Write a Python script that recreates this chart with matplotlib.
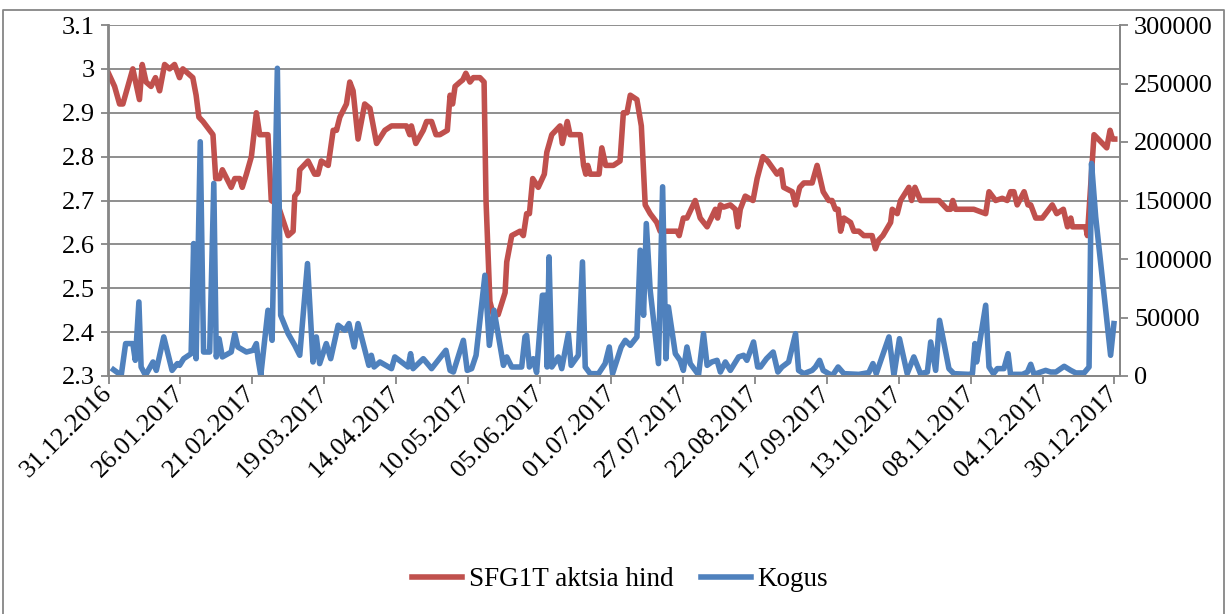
import pandas as pd
import matplotlib
matplotlib.use('Agg')
from matplotlib import pyplot as plt
from matplotlib.ticker import MultipleLocator, FuncFormatter
from matplotlib.lines import Line2D
import matplotlib.dates as mdates

plt.rcParams['font.family'] = ['Liberation Serif', 'DejaVu Serif']

# Päevad alates 31.12.2016 ja aktsia hind
hind_paevad = [0, 2.2, 4, 5.2, 8.8, 11.2, 12.2, 13.6, 15.4, 17,
               18.5, 20.3, 22.1, 23.9, 25.7, 26.9, 28.7, 30.5, 31.7, 32.7,
               34.2, 36.6, 37.8, 38.8, 40.2, 41.2, 44.4, 45.7, 47.5, 48.4,
               49.9, 51.7, 53.5, 54.7, 57.7, 58.9, 61.3, 65, 66.8, 67.4,
               68.6, 69.2, 72.2, 74.6, 75.8, 77, 79.5, 81.3, 82.5, 83.7,
               86.1, 87.3, 88.5, 90.3, 92.7, 94.6, 97, 100, 102.4, 107.8,
               109, 109.6, 111.2, 113.9, 115.1, 116.9, 118.5, 119.9, 122.6, 123.6,
               124.5, 125.4, 127.2, 128.2, 129.3, 130.8, 132, 134.4, 135.9, 136.6,
               138, 139.2, 141, 143.5, 144.1, 145.9, 148.9, 150.1, 151.3, 152.3,
               153.5, 155.5, 157.7, 158.6, 160.4, 163.4, 164.2, 166, 167, 170.7,
               171.9, 172.7, 173.4, 174.3, 177.5, 178.5, 179.9, 182.7, 185.1, 186.3,
               187.6, 188.8, 191.2, 192.8, 194.2, 196, 198.4, 199.6, 205.7, 206.5,
               208, 209.3, 212.3, 214.1, 216.6, 219.6, 220.4, 221.4, 222.6, 225,
               226.8, 227.7, 228.6, 230.4, 233.2, 234.7, 236.8, 238.5, 241.9, 243.4,
               244.3, 247.4, 248.6, 250.1, 251.6, 254.6, 256.4, 258.6, 260.6, 261.8,
               263, 264, 264.9, 266.1, 268.5, 269.7, 271.5, 273.3, 276.3, 277.5,
               278.7, 280.2, 283, 283.6, 285.4, 286.6, 289.6, 290.6, 291.8, 293.8,
               300.5, 303.5, 304.7, 305.5, 306.5, 313.1, 317.4, 318.6, 321, 323.4,
               325.2, 326.4, 327.6, 328.8, 331.3, 332.7, 333.7, 335.5, 337.9, 341.5,
               343.1, 345.5, 347, 348.2, 348.8, 353.6, 354.2, 356.6, 361.2,
               362.4, 363.3, 364.1]
hind = [2.99, 2.96, 2.92, 2.92, 3.00, 2.93, 3.01, 2.97, 2.96, 2.98,
        2.95, 3.01, 3.00, 3.01, 2.98, 3.00, 2.99, 2.98, 2.94, 2.89,
        2.88, 2.86, 2.85, 2.75, 2.75, 2.77, 2.73, 2.75, 2.75, 2.73,
        2.76, 2.80, 2.90, 2.85, 2.85, 2.70, 2.69, 2.62, 2.63, 2.71,
        2.72, 2.77, 2.79, 2.76, 2.76, 2.79, 2.78, 2.86, 2.86, 2.89,
        2.92, 2.97, 2.95, 2.84, 2.92, 2.91, 2.83, 2.86, 2.87, 2.87,
        2.85, 2.87, 2.83, 2.86, 2.88, 2.88, 2.85, 2.85, 2.86, 2.94,
        2.92, 2.96, 2.97, 2.975, 2.99, 2.97, 2.98, 2.98, 2.97, 2.70,
        2.47, 2.44, 2.44, 2.49, 2.56, 2.62, 2.63, 2.62, 2.67, 2.67,
        2.75, 2.73, 2.76, 2.81, 2.85, 2.87, 2.83, 2.88, 2.85, 2.85,
        2.78, 2.76, 2.78, 2.76, 2.76, 2.82, 2.78, 2.78, 2.79, 2.90,
        2.90, 2.94, 2.93, 2.87, 2.69, 2.67, 2.65, 2.63, 2.63, 2.62,
        2.66, 2.66, 2.70, 2.66, 2.64, 2.68, 2.66, 2.69, 2.685, 2.69,
        2.68, 2.64, 2.68, 2.71, 2.70, 2.75, 2.80, 2.79, 2.76, 2.77,
        2.73, 2.72, 2.69, 2.73, 2.74, 2.74, 2.78, 2.72, 2.70, 2.70,
        2.68, 2.68, 2.63, 2.66, 2.65, 2.63, 2.63, 2.62, 2.62, 2.59,
        2.61, 2.62, 2.65, 2.68, 2.67, 2.70, 2.73, 2.70, 2.73, 2.70,
        2.70, 2.68, 2.68, 2.70, 2.68, 2.68, 2.67, 2.72, 2.70, 2.705,
        2.70, 2.72, 2.72, 2.69, 2.72, 2.69, 2.69, 2.66, 2.66, 2.69,
        2.67, 2.68, 2.64, 2.66, 2.64, 2.64, 2.62, 2.85, 2.82,
        2.86, 2.84, 2.84]

# Päevad alates 31.12.2016 ja tehingute kogus
kogus_paevad = [1.8, 4.6, 6.2, 8.8, 9.7, 11, 11.8, 13.4, 16.1, 17.3,
                20, 23, 24.9, 25.7, 27.2, 29.9, 30.8, 31.7, 33.2, 34.4,
                36.6, 38.1, 39, 40, 41.2, 44.4, 45.7, 46.8, 49.9, 52.3,
                53.5, 54.1, 55.1, 57.7, 59.2, 61.1, 62.3, 65, 67.4, 69.2,
                72, 74, 75.2, 76.4, 78.8, 80.4, 83.1, 85.5, 87, 88.9,
                90.3, 94.2, 95.1, 96.1, 98.2, 102.4, 103.6, 108.4, 109.3, 110.2,
                113.9, 116.9, 122.1, 123.6, 124.8, 128.4, 129.8, 131.4, 133, 136.2,
                137.8, 139.5, 142.9, 144.1, 145.9, 149.5, 150.7, 151.3, 152.3, 153.7,
                154.9, 157, 158, 158.7, 159.4, 160.4, 162.8, 164, 166.4, 167.4,
                170, 171.5, 172.5, 174.3, 177.3, 179.7, 181.2, 182.4, 185.5, 187,
                188.8, 191.2, 192.4, 193.6, 194.6, 196, 199, 200.5, 201.7, 202.6,
                205.1, 206.8, 208, 209.3, 210.5, 213.5, 215.3, 216.6, 218.3, 220.2,
                221.4, 223.2, 225, 228, 229.8, 231, 233.4, 234.9, 235.9, 238.1,
                240.5, 242.2, 243.7, 246.1, 248.6, 249.7, 251.6, 254.6, 255.8, 257.3,
                258.6, 260.6, 262, 264, 266.1, 271.5, 275.1, 276.6, 277.8, 282.4,
                284.2, 286.2, 289, 291.4, 293.8, 296.3, 297.5, 299.3, 300.7, 304.1,
                305.9, 311.3, 312.6, 313.5, 314.1, 317.4, 318.6, 320.2, 321.6, 324,
                325.5, 326.4, 330.7, 332.5, 333.7, 334.9, 339.1, 340.9, 342.8, 345.8,
                348.2, 350, 353, 354.8, 355.7, 357.2, 362.6, 363.8]
kogus = [5400, 600, 27700, 27700, 13400, 63300, 7700, 600, 12000, 4800,
         33400, 4800, 10600, 9100, 14800, 19100, 113200, 14800, 200200, 20500,
         20500, 164600, 16300, 31900, 16300, 20500, 36200, 24800, 20500, 22000,
         27700, 14800, 600, 56200, 30500, 263000, 51900, 36200, 26200, 17700,
         96100, 12000, 33400, 10600, 27700, 14800, 43400, 39100, 44800, 24800,
         44800, 9100, 17700, 7700, 12000, 6300, 16300, 7700, 19100, 6300,
         14800, 6300, 22000, 4800, 3400, 30500, 4800, 6300, 17700, 86100,
         26200, 56200, 9100, 16300, 7700, 7700, 33400, 34800, 7700, 14800,
         3000, 69000, 69000, 7700, 101800, 7700, 16300, 6300, 36200, 9100,
         17700, 97500, 7700, 2000, 2000, 10600, 24800, 2000, 24800, 30500,
         26200, 33400, 107500, 51900, 130300, 73300, 10600, 161700, 14800, 59000,
         19100, 13400, 4800, 24800, 10600, 1000, 36200, 9100, 12000, 13400,
         3400, 12000, 4800, 16300, 17700, 13400, 29100, 7700, 7700, 14800,
         20500, 3400, 7700, 12000, 36200, 4800, 2000, 4800, 7700, 13400,
         4800, 2000, 600, 7700, 2000, 1400, 2900, 10600, 2000, 33400,
         600, 31900, 2000, 16300, 2000, 3400, 29100, 4800, 47600, 6300,
         2000, 1400, 2000, 27700, 12000, 60500, 7700, 2000, 6300, 6300,
         19100, 1400, 1400, 3400, 10000, 1400, 4800, 3400, 3400, 8300,
         4800, 2600, 2600, 7700, 181700, 136100, 17700, 44800]

algus = pd.Timestamp('2016-12-31')
tick_kuupaevad = pd.date_range('2016-12-31', '2017-12-30', freq='26D')

hind_x = algus + pd.to_timedelta(hind_paevad, unit='D')
kogus_x = algus + pd.to_timedelta(kogus_paevad, unit='D')

punane = '#C0504D'
sinine = '#4F81BD'
hall = '#868686'

fig = plt.figure(figsize=(12.27, 6.14), dpi=100)
ax = fig.add_axes([108.5 / 1227, 1 - 376 / 614, (1120 - 108.5) / 1227, (376 - 25) / 614])
ax2 = ax.twinx()

ax.plot(hind_x, hind, color=punane, lw=4, solid_joinstyle='round')
ax2.plot(kogus_x, kogus, color=sinine, lw=4, solid_joinstyle='round')

ax.set_xlim(algus, algus + pd.Timedelta(days=366))
ax.set_ylim(2.3, 3.1)
ax2.set_ylim(0, 300000)

ax.yaxis.set_major_locator(MultipleLocator(0.1))
ax.yaxis.set_major_formatter(FuncFormatter(lambda v, _: f'{round(v, 1):g}'))
ax2.yaxis.set_major_locator(MultipleLocator(50000))
ax2.yaxis.set_major_formatter(FuncFormatter(lambda v, _: f'{int(round(v))}'))

ax.set_xticks(tick_kuupaevad)
ax.xaxis.set_major_formatter(mdates.DateFormatter('%d.%m.%Y'))
for lbl in ax.get_xticklabels():
    lbl.set_rotation(45)
    lbl.set_ha('right')
    lbl.set_va('center')
    lbl.set_rotation_mode('anchor')

ax.grid(axis='y', color=hall, lw=1.3)
ax.set_axisbelow(True)

for a in (ax, ax2):
    a.spines['top'].set_visible(False)
    for s in ('left', 'right', 'bottom'):
        a.spines[s].set_color(hall)
        a.spines[s].set_linewidth(1.3)
    a.tick_params(direction='out', length=6, width=1.3, color=hall, labelsize=19, pad=4)

# Legend all
kasitsed = [Line2D([], [], color=punane, lw=4), Line2D([], [], color=sinine, lw=4)]
fig.legend(kasitsed, ['SFG1T aktsia hind', 'Kogus'], loc='center',
           bbox_to_anchor=(620 / 1227, 1 - 580 / 614), ncol=2, frameon=False,
           fontsize=19.5, handlelength=1.85, handletextpad=0.25, columnspacing=1.0)

# Diagrammi raam
fig.add_artist(Line2D([3 / 1227, 3 / 1227, 1224 / 1227, 1224 / 1227],
                      [0, 1 - 10 / 614, 1 - 10 / 614, 0],
                      transform=fig.transFigure, color=hall, lw=1.3))

fig.savefig('out.png', dpi=100)
